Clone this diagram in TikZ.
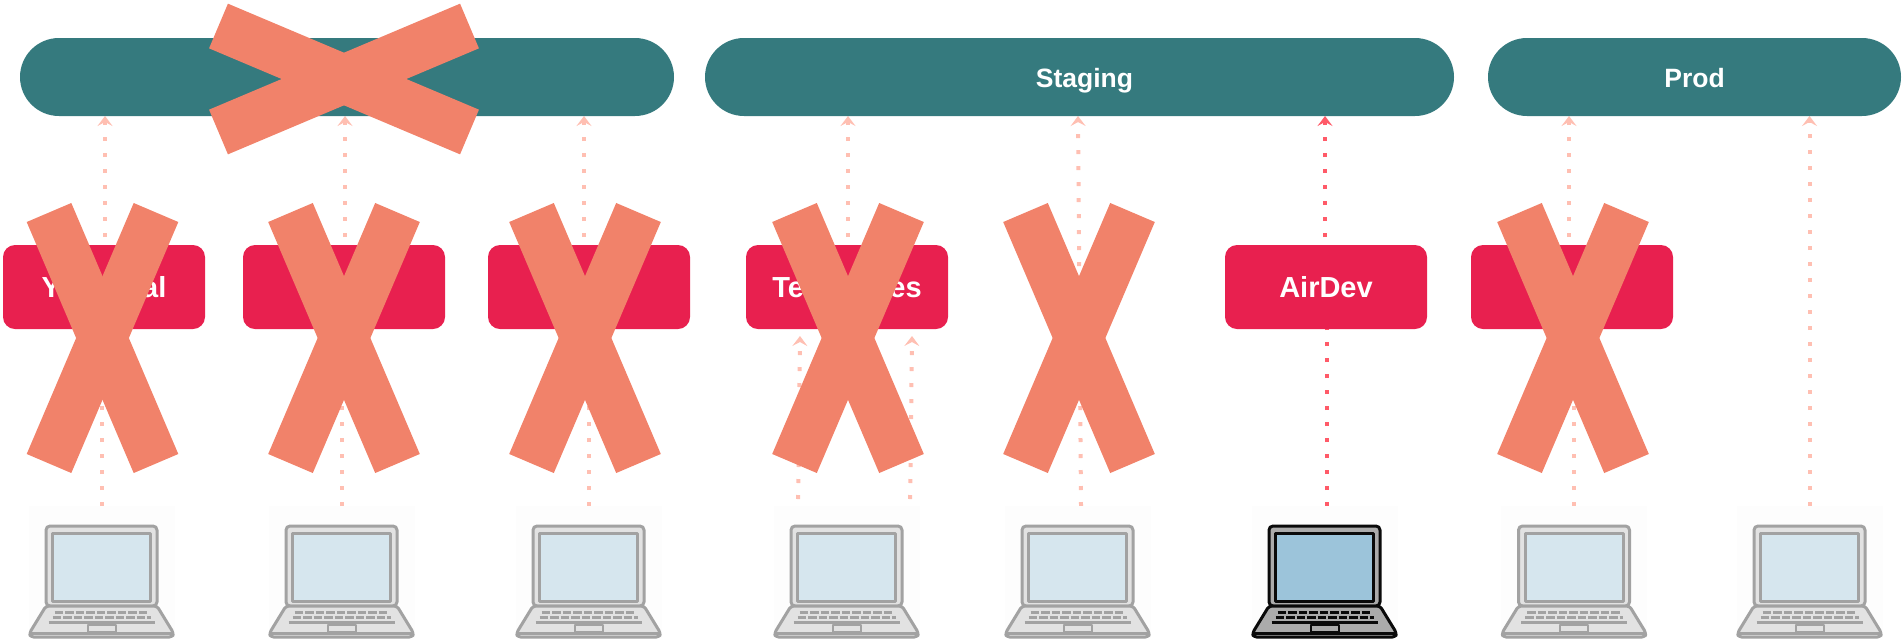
\documentclass[tikz,border=0pt]{standalone}
\usepackage{fontspec}
\setmainfont{Liberation Sans}
\usetikzlibrary{arrows.meta, positioning, backgrounds}
\definecolor{envteal}{HTML}{357A7E}
\definecolor{devred}{HTML}{E8204F}
\definecolor{crosssalmon}{HTML}{F1826A}
\definecolor{palearrow}{HTML}{FFBFB2}
\definecolor{livearrow}{HTML}{FF5A68}
\definecolor{lapfaint}{HTML}{FDFDFD}
\definecolor{lapline}{HTML}{A2A2A2}
\definecolor{lapbody}{HTML}{E2E2E2}
\definecolor{lapscreen}{HTML}{D6E6EE}
\definecolor{liveline}{HTML}{0A0A0A}
\definecolor{livebody}{HTML}{ABABAB}
\definecolor{livescreen}{HTML}{9CC4DA}
\tikzset{
    envbox/.style={fill=envteal, rounded corners=39pt, minimum height=78pt, outer sep=0pt, inner sep=0pt, text=white, text height=26pt, text depth=6pt, font=\fontsize{26.5}{30}\selectfont\bfseries},
    devbox/.style={fill=devred, rounded corners=12pt, minimum width=202pt, minimum height=84pt, outer sep=0pt, inner sep=0pt, text=white, text height=26pt, text depth=6pt, font=\fontsize{29}{32}\selectfont\bfseries},
    lapbox/.style={fill=lapfaint, minimum width=146pt, minimum height=132pt, outer sep=0pt, inner sep=0pt},
    dotarrow/.style={-{Stealth[length=10pt,width=15pt,inset=4pt]}, line width=4pt, dash pattern=on 4pt off 12pt, palearrow},
    topdots/.style={dash phase=8pt},
    livedots/.style={color=livearrow},
    underbox/.style={shorten >=-14pt},
    crossbar/.style={line width=48.5pt, crosssalmon}
}
% one laptop: line colour, body colour, screen colour
\newcommand{\laptopicon}[4]{
    \begin{scope}[shift={(#1)}, draw=#2, line width=3pt, line join=round]
        \filldraw[fill=#3, rounded corners=4pt] (-55.5,34) -- (-55.5,-46) -- (55.5,-46) -- (55.5,34) -- cycle;
        \filldraw[fill=#4] (-49,-38.5) rectangle (49,29.5);
        \filldraw[fill=#3, rounded corners=3pt] (-55.5,34) -- (55.5,34) -- (72,61) -- (71,65) -- (-71,65) -- (-72,61) -- cycle;
        \draw (-71,61) -- (71,61);
        \draw (-53,50) -- (53,50);
        \draw[dash pattern=on 8.5pt off 2pt] (-47,40) -- (47,40);
        \draw[dash pattern=on 8.5pt off 2pt] (-49,45) -- (49,45);
        \filldraw[fill=#3, line width=2pt] (-14,53) rectangle (14,60);
    \end{scope}
}

\begin{document}
\begin{tikzpicture}[x=1pt, y=-1pt]
    \useasboundingbox (0,0) rectangle (1903,641);
    % environments
    \node [envbox, minimum width=654pt] (envfirst) at (347,77) {};
    \node [envbox, minimum width=749pt, right=31pt of envfirst] (envstaging) {\hspace*{10pt}Staging};
    \node [envbox, minimum width=413pt, right=34pt of envstaging] (envprod) {Prod};
    % dev setups
    \node [devbox] (devlocal) at (104,287) {Y\hspace{2.8em}al};
    \node [devbox, right=38pt of devlocal] (devsecond) {};
    \node [devbox, right=43pt of devsecond] (devthird) {};
    \node [devbox, right=56pt of devthird] (devtemplates) {Te\hspace{2.95em}es};
    \node [devbox, right=277pt of devtemplates] (devair) {AirDev};
    \node [devbox, right=44pt of devair] (devlast) {};
    % laptops
    \foreach \lapname/\lapx in {lapa/101.5, lapb/341.5, lapc/588.5, lapd/846.5, lape/1077.5, lapf/1324.5, lapg/1574, laph/1809.5} {
        \node [lapbox] (\lapname) at (\lapx,572) {};
    }
    \foreach \lapname in {lapa, lapb, lapc, lapd, lape, lapg, laph} {
        \laptopicon{\lapname}{lapline}{lapbody}{lapscreen}
    }
    \laptopicon{lapf}{liveline}{livebody}{livescreen}
    % arrows go under the boxes
    \begin{scope}[on background layer]
        \foreach \lapname/\devname in {lapa/devlocal, lapb/devsecond, lapc/devthird, lapg/devlast} {
            \draw [dotarrow, underbox] (\lapname.north) -- (\lapname.north |- \devname.south);
        }
        \foreach \devname/\envname/\shiftx in {devlocal/envfirst/1, devsecond/envfirst/1, devthird/envfirst/-5, devtemplates/envstaging/1, devlast/envprod/-3} {
            \draw [dotarrow, topdots] ([xshift=\shiftx pt]\devname.north) -- ([xshift=\shiftx pt]\devname.north |- \envname.south);
        }
        \draw [dotarrow] ([shift={(-48.5,9)}]lapd.north) -- ([xshift=-47pt, yshift=-7pt]devtemplates.south);
        \draw [dotarrow] ([shift={(63.5,9)}]lapd.north) -- ([xshift=65pt, yshift=-7pt]devtemplates.south);
        \draw [dotarrow] ([xshift=3.5pt]lape.north) -- ([xshift=0.5pt]lape.north |- envstaging.south);
        \draw [dotarrow] (laph.north) -- (laph.north |- envprod.south);
        \draw [dotarrow, livedots, underbox] ([xshift=2.5pt]lapf.north) -- ([xshift=1pt]devair.south);
        \draw [dotarrow, livedots, topdots] ([xshift=-1pt]devair.north) -- ([xshift=-1pt]devair.north |- envstaging.south);
    \end{scope}
    % crossed out
    \foreach \crossx in {102.5, 344, 585, 848, 1079, 1573} {
        \draw [crossbar] (\crossx-53.5,212.5) -- (\crossx+53.5,463.5);
        \draw [crossbar] (\crossx+53.5,212.5) -- (\crossx-53.5,463.5);
    }
    \draw [crossbar] (218.5,26) -- (469.5,132);
    \draw [crossbar] (469.5,26) -- (218.5,132);
\end{tikzpicture}
\end{document}
